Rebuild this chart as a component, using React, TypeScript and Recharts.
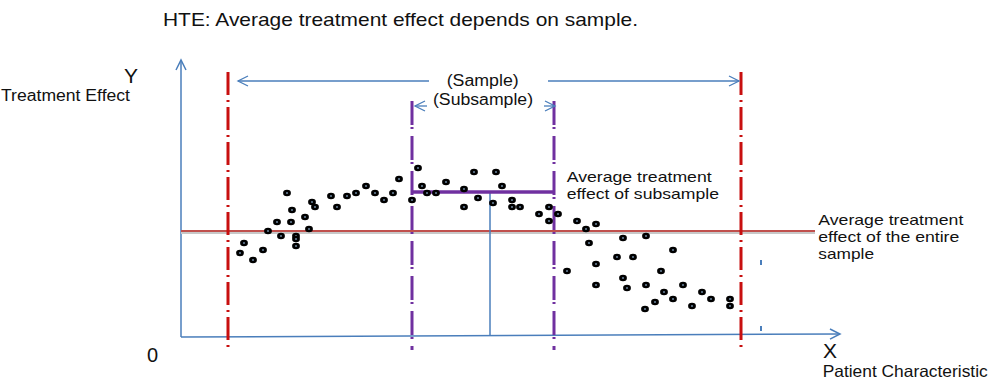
import React from 'react';
import { ScatterChart, Scatter, XAxis, YAxis, ReferenceLine } from 'recharts';

// Patient characteristic (x) and treatment effect (y) of each patient
const patientCharacteristic = [
  5.9, 6.3, 7.2, 8.2, 8.7, 9.6, 10.0, 10.6, 11.0, 11.1, 11.5, 11.5, 11.5, 12.4, 12.8,
  13.1, 13.4, 15.0, 15.6, 16.6, 17.5, 18.5, 19.4, 20.3, 21.2, 21.8, 23.1, 23.7, 24.1,
  24.6, 25.5, 26.5, 28.3, 28.3, 29.3, 29.7, 31.2, 31.5, 32.1, 33.1, 33.1, 33.9, 35.8,
  36.8, 36.8, 37.7, 38.6, 39.6, 40.5, 40.8, 41.5, 41.5, 41.5, 43.6, 44.2, 44.2, 44.6,
  45.2, 46.5, 46.5, 46.4, 47.4, 48.0, 48.3, 49.2, 49.2, 50.2, 51.1, 52.1, 53.0, 54.9, 54.9,
];
const treatmentEffect = [
  8.3, 9.3, 7.6, 8.6, 10.5, 11.4, 10.0, 14.3, 11.4, 12.6, 10.0, 9.7, 9.0, 11.9, 10.7,
  13.4, 12.9, 14.0, 12.9, 14.0, 14.3, 15.0, 14.3, 13.6, 14.3, 15.7, 13.6, 16.8, 15.0,
  14.3, 14.3, 15.4, 14.7, 12.9, 16.4, 13.8, 13.3, 16.4, 15.0, 13.6, 12.9, 12.9, 12.2,
  12.9, 11.5, 12.2, 6.5, 11.5, 10.7, 9.3, 11.2, 7.2, 5.1, 7.9, 9.8, 5.8, 4.8,
  7.9, 10.0, 5.1, 2.7, 3.4, 6.5, 4.4, 8.6, 3.7, 5.1, 3.0, 4.4, 3.7, 3.7, 3.0,
];

// Sample / subsample boundaries and averages (chart units)
const sampleBounds = [4.7, 56.0];
const subsampleBounds = [23.1, 37.3];
const entireAverage = 10.5;
const subsampleAverage = 14.4;
const subsampleCenter = 30.9;
const xMax = 66;
const yMax = 27.6;

const data = patientCharacteristic.map((x, i) => ({ x, y: treatmentEffect[i] }));

const BLUE = '#4a7ebb';
const RED = '#c80f0f';
const PURPLE = '#7030a0';

const Arrow = (props: any) => {
  const { x1, y1, x2, y2, stroke, strokeWidth } = props;
  const ang = Math.atan2(y2 - y1, x2 - x1);
  const L = 10;
  const W = 5;
  const bx = x2 - L * Math.cos(ang);
  const by = y2 - L * Math.sin(ang);
  const px = -Math.sin(ang) * W;
  const py = Math.cos(ang) * W;
  return (
    <g>
      <line x1={x1} y1={y1} x2={x2} y2={y2} stroke={stroke} strokeWidth={strokeWidth} />
      <polyline
        points={`${bx + px},${by + py} ${x2},${y2} ${bx - px},${by - py}`}
        fill="none"
        stroke={stroke}
        strokeWidth={strokeWidth}
      />
    </g>
  );
};

const Dot = (props: any) => {
  const { cx, cy } = props;
  return (
    <g>
      <ellipse cx={cx} cy={cy} rx={3.9} ry={3.2} fill="#000" />
      <ellipse cx={cx} cy={cy} rx={1.1} ry={0.8} fill="#8fb0d0" />
    </g>
  );
};

const font = '"Liberation Sans", Arial, sans-serif';

type Line = { t: string; w?: number };
const texts: { x: number; y: number; s: number; lh: number; lines: Line[] }[] = [
  { x: 163, y: 25.7, s: 18.5, lh: 0, lines: [{ t: 'HTE: Average treatment effect depends on sample.', w: 475 }] },
  { x: 124, y: 83, s: 21, lh: 0, lines: [{ t: 'Y' }] },
  { x: 1, y: 100.7, s: 16, lh: 0, lines: [{ t: 'Treatment Effect', w: 129 }] },
  { x: 147, y: 361.7, s: 20, lh: 0, lines: [{ t: '0' }] },
  { x: 823, y: 357.5, s: 21, lh: 0, lines: [{ t: 'X' }] },
  { x: 822.7, y: 376.7, s: 16.5, lh: 0, lines: [{ t: 'Patient Characteristic', w: 165 }] },
  { x: 446.7, y: 85.5, s: 16, lh: 0, lines: [{ t: '(Sample)', w: 72 }] },
  { x: 433, y: 105, s: 16, lh: 0, lines: [{ t: '(Subsample)', w: 100 }] },
  {
    x: 566.7, y: 182, s: 14.6, lh: 17,
    lines: [{ t: 'Average treatment', w: 145 }, { t: 'effect of subsample', w: 152.3 }],
  },
  {
    x: 818.3, y: 224.5, s: 14.6, lh: 17,
    lines: [
      { t: 'Average treatment', w: 145 },
      { t: 'effect of the entire', w: 141 },
      { t: 'sample', w: 55.7 },
    ],
  },
];

export default function App() {
  return (
    <div style={{ position: 'absolute', left: 0, top: 0, width: 992, height: 392, background: '#fff' }}>
      <ScatterChart width={992} height={392} margin={{ top: 60, right: 151, bottom: 56, left: 181 }}>
        <XAxis type="number" dataKey="x" domain={[0, xMax]} hide allowDataOverflow />
        <YAxis type="number" dataKey="y" domain={[0, yMax]} hide allowDataOverflow />
        {/* axes */}
        <ReferenceLine
          segment={[{ x: 0, y: -0.1 }, { x: 0, y: yMax }]}
          ifOverflow="visible"
          stroke={BLUE}
          strokeWidth={1.5}
          shape={Arrow}
        />
        <ReferenceLine
          segment={[{ x: 0, y: -0.1 }, { x: 65.9, y: 0.2 }]}
          ifOverflow="visible"
          stroke={BLUE}
          strokeWidth={1.5}
          shape={Arrow}
        />
        {/* entire sample average */}
        <ReferenceLine
          segment={[{ x: 0, y: entireAverage - 0.2 }, { x: 63.4, y: entireAverage - 0.2 }]}
          ifOverflow="visible"
          stroke="#c8c8c8"
          strokeWidth={2}
        />
        <ReferenceLine
          segment={[{ x: 0, y: entireAverage }, { x: 63.4, y: entireAverage }]}
          ifOverflow="visible"
          stroke="#c0504d"
          strokeWidth={2}
        />
        {/* subsample average + center */}
        <ReferenceLine
          segment={[{ x: subsampleCenter, y: 0 }, { x: subsampleCenter, y: subsampleAverage }]}
          ifOverflow="visible"
          stroke={BLUE}
          strokeWidth={1.5}
        />
        <ReferenceLine
          segment={[{ x: subsampleBounds[0], y: subsampleAverage }, { x: subsampleBounds[1], y: subsampleAverage }]}
          ifOverflow="visible"
          stroke={PURPLE}
          strokeWidth={3.3}
        />
        {/* sample boundaries */}
        {sampleBounds.map((b) => (
          <ReferenceLine
            key={'s' + b}
            segment={[{ x: b, y: 26.4 }, { x: b, y: -1.4 }]}
            ifOverflow="visible"
            stroke={RED}
            strokeWidth={3}
            strokeDasharray="23 5 2 5"
          />
        ))}
        {subsampleBounds.map((b) => (
          <ReferenceLine
            key={'u' + b}
            segment={[{ x: b, y: 23.5 }, { x: b, y: -1.4 }]}
            ifOverflow="visible"
            stroke={PURPLE}
            strokeWidth={3}
            strokeDasharray="24 2 2 7"
          />
        ))}
        {/* sample arrows */}
        <ReferenceLine segment={[{ x: 24.8, y: 25.5 }, { x: 5.7, y: 25.5 }]} ifOverflow="visible" stroke={BLUE} strokeWidth={1.3} shape={Arrow} />
        <ReferenceLine segment={[{ x: 36.7, y: 25.5 }, { x: 55.8, y: 25.5 }]} ifOverflow="visible" stroke={BLUE} strokeWidth={1.3} shape={Arrow} />
        <ReferenceLine segment={[{ x: 24.6, y: 23.0 }, { x: 23.4, y: 23.0 }]} ifOverflow="visible" stroke={BLUE} strokeWidth={1.3} shape={Arrow} />
        <ReferenceLine segment={[{ x: 36.3, y: 23.0 }, { x: 37.4, y: 23.0 }]} ifOverflow="visible" stroke={BLUE} strokeWidth={1.3} shape={Arrow} />
        {/* small ticks */}
        <ReferenceLine segment={[{ x: 58.0, y: 7.6 }, { x: 58.0, y: 7.1 }]} ifOverflow="visible" stroke={BLUE} strokeWidth={2} />
        <ReferenceLine segment={[{ x: 58.0, y: 1.0 }, { x: 58.0, y: 0.5 }]} ifOverflow="visible" stroke={BLUE} strokeWidth={2} />
        <Scatter data={data} isAnimationActive={false} shape={Dot} />
      </ScatterChart>
      <svg
        width={992}
        height={392}
        style={{ position: 'absolute', left: 0, top: 0, pointerEvents: 'none' }}
      >
        {texts.map((t, i) => (
          <text key={i} x={t.x} y={t.y} fontSize={t.s} fontFamily={font} fill="#111">
            {t.lines.map((l, j) => (
              <tspan
                key={j}
                x={t.x}
                y={t.y + j * t.lh}
                textLength={l.w}
                lengthAdjust={l.w ? 'spacingAndGlyphs' : undefined}
              >
                {l.t}
              </tspan>
            ))}
          </text>
        ))}
      </svg>
    </div>
  );
}
